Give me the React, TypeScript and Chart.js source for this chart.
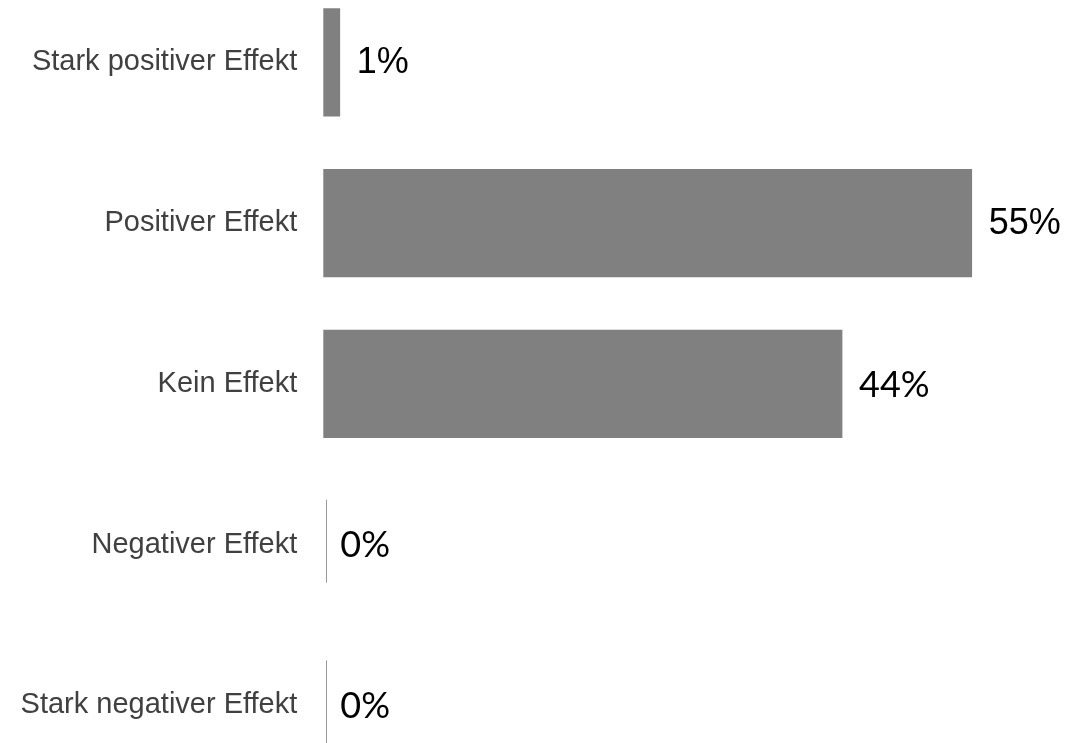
import React, { useEffect, useRef } from "react";
import { Chart, registerables } from "chart.js";

Chart.register(...registerables);

const categories = [
  "Stark positiver Effekt",
  "Positiver Effekt",
  "Kein Effekt",
  "Negativer Effekt",
  "Stark negativer Effekt",
];
const values = [1.4, 55, 44, 0, 0];
const valueLabels = ["1%", "55%", "44%", "0%", "0%"];
const valueLabelFamilies = [
  "Arial, 'Liberation Sans', sans-serif",
  "Arial, 'Liberation Sans', sans-serif",
  "Lato, 'Open Sans', sans-serif",
  "Lato, 'Open Sans', sans-serif",
  "Lato, 'Open Sans', sans-serif",
];

const valueLabelPlugin = {
  id: "valueLabels",
  afterDatasetsDraw(chart: any) {
    const ctx = chart.ctx;
    const meta = chart.getDatasetMeta(0);
    const xScale = chart.scales.x;
    const zeroX = xScale.getPixelForValue(0);
    ctx.save();
    meta.data.forEach((bar: any, i: number) => {
      const v = values[i];
      if (v === 0) {
        // thin marker line for zero-value bars
        ctx.strokeStyle = "#9a9a9a";
        ctx.lineWidth = 1;
        ctx.beginPath();
        const lx = Math.round(zeroX + 3) + 0.5;
        ctx.moveTo(lx, bar.y - 45);
        ctx.lineTo(lx, bar.y + 38);
        ctx.stroke();
      }
      ctx.fillStyle = "#000000";
      ctx.font = `36px ${valueLabelFamilies[i]}`;
      ctx.textAlign = "left";
      ctx.textBaseline = "middle";
      ctx.fillText(valueLabels[i], bar.x + 17, bar.y + 1);
    });
    ctx.restore();
  },
};

export default function App() {
  const canvasRef = useRef<HTMLCanvasElement | null>(null);

  useEffect(() => {
    if (!canvasRef.current) return;
    const chart = new Chart(canvasRef.current, {
      type: "bar",
      data: {
        labels: categories,
        datasets: [
          {
            data: values,
            backgroundColor: values.map((v) => (v === 0 ? "rgba(0,0,0,0)" : "#808080")),
            borderWidth: 0,
            barThickness: 107.5,
          },
        ],
      },
      options: {
        indexAxis: "y",
        animation: false,
        responsive: true,
        maintainAspectRatio: false,
        layout: { padding: { left: 0, right: 56.3, top: 0, bottom: 0 } },
        plugins: {
          legend: { display: false },
          tooltip: { enabled: false },
          title: { display: false },
        },
        scales: {
          x: {
            display: false,
            min: 0,
            max: 60,
          },
          y: {
            offset: true,
            grid: { display: false, drawTicks: false },
            border: { display: false },
            afterFit: (scale: any) => {
              scale.width = 323.3;
              scale.paddingTop = 0;
              scale.paddingBottom = 0;
            },
            ticks: {
              autoSkip: false,
              padding: 26,
              color: "#404040",
              font: { family: "Arial, 'Liberation Sans', sans-serif", size: 29 },
            },
          },
        },
      },
      plugins: [valueLabelPlugin],
    });
    return () => chart.destroy();
  }, []);

  return (
    <div
      style={{
        position: "fixed",
        left: 0,
        top: 0,
        width: 1087,
        height: 743,
        overflow: "hidden",
        background: "#ffffff",
      }}
    >
      <div
        style={{
          position: "absolute",
          left: 0,
          top: -18.4,
          width: 1087,
          height: 803.75,
        }}
      >
        <canvas ref={canvasRef} />
      </div>
    </div>
  );
}
